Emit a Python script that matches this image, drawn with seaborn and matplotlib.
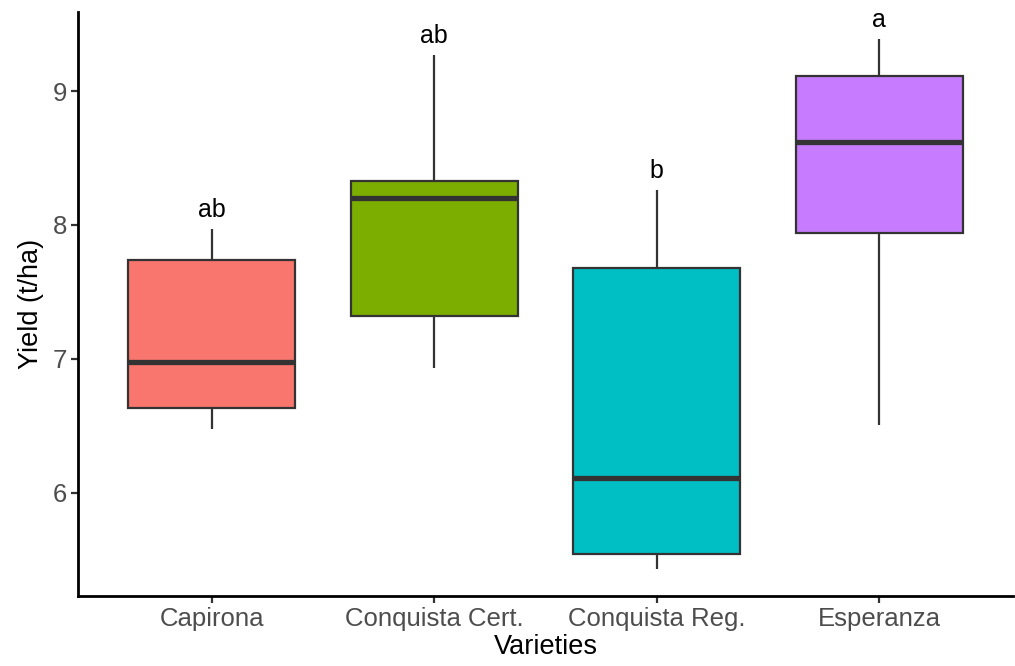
import matplotlib
matplotlib.use("Agg")
import matplotlib.pyplot as plt
import seaborn as sns
import pandas as pd

# Yield observations per variety (t/ha)
varieties = ["Capirona", "Conquista Cert.", "Conquista Reg.", "Esperanza"]
capirona = [6.48, 6.63, 6.98, 7.74, 7.97]
conquista_cert = [6.93, 7.32, 8.20, 8.33, 9.27]
conquista_reg = [5.43, 5.54, 6.11, 7.68, 8.26]
esperanza = [6.51, 7.94, 8.62, 9.11, 9.39]
# Tukey grouping letters
letters = ["ab", "ab", "b", "a"]
colors = ["#F8766D", "#7CAE00", "#00BFC4", "#C77CFF"]

groups = [capirona, conquista_cert, conquista_reg, esperanza]
df = pd.DataFrame(
    [(v, y) for v, ys in zip(varieties, groups) for y in ys],
    columns=["Variety", "Yield"],
)

sns.set_theme(style="ticks")
plt.rcParams["font.family"] = ["Liberation Sans", "DejaVu Sans"]

fig = plt.figure(figsize=(10.15, 6.66), dpi=100)
ax = fig.add_axes([78 / 1015, 70 / 666, 935 / 1015, 584 / 666])

sns.boxplot(
    data=df, x="Variety", y="Yield", hue="Variety", order=varieties,
    hue_order=varieties, palette=colors, saturation=1, width=0.75, whis=1.5,
    linecolor="#333333", linewidth=1.6, showcaps=False, legend=False,
    medianprops=dict(linewidth=3.8, color="#333333"),
    boxprops=dict(edgecolor="#333333"), ax=ax,
)

for i, (ys, lab) in enumerate(zip(groups, letters)):
    ax.text(i, max(ys) + 0.05, lab, ha="center", va="bottom",
            fontsize=18, color="black")

ax.set_xlim(-0.6, 3.6)
ax.set_ylim(5.23, 9.59)
ax.set_yticks([6, 7, 8, 9])
ax.set_xlabel("Varieties", fontsize=19.5, color="black", labelpad=2)
ax.set_ylabel("Yield (t/ha)", fontsize=19.5, color="black", labelpad=6)
ax.tick_params(axis="both", labelsize=18.5, labelcolor="#4D4D4D",
               color="#333333", width=1.6, length=5, pad=3)
for side in ["left", "bottom"]:
    ax.spines[side].set_linewidth(2)
    ax.spines[side].set_color("black")
sns.despine(ax=ax)

fig.savefig("out.png", dpi=100, facecolor="white")
